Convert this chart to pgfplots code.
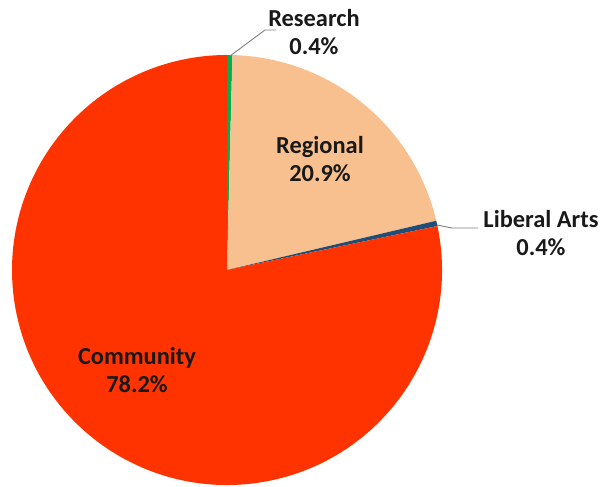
\documentclass[border=0pt]{standalone}
\usepackage{pgfplots}
\usepackage{pgfplotstable}
\pgfplotsset{compat=1.18}
\usepackage{fontspec}
\setmainfont{Carlito}

\definecolor{community}{HTML}{FF3300}
\definecolor{regional}{HTML}{F9C08F}
\definecolor{research}{HTML}{00B050}
\definecolor{libarts}{HTML}{1F4E79}
\definecolor{leader}{HTML}{7F7F7F}

\tikzset{lbl/.style={font=\bfseries\fontsize{24.5}{28}\selectfont, align=center, text=black!90}}

% share of institutions by type (%), clockwise from the top
\pgfplotstableread{
label value
Research 0.4
Regional 20.9
LiberalArts 0.4
Community 78.2
}\piedata
\pgfplotstablegetelem{0}{value}\of\piedata \let\vA\pgfplotsretval
\pgfplotstablegetelem{1}{value}\of\piedata \let\vB\pgfplotsretval
\pgfplotstablegetelem{2}{value}\of\piedata \let\vC\pgfplotsretval
\pgfplotstablegetelem{3}{value}\of\piedata \let\vD\pgfplotsretval
\pgfmathsetmacro\total{\vA+\vB+\vC+\vD}
\pgfmathsetmacro\aA{90}
\pgfmathsetmacro\aB{\aA-(\vA/\total)*360}
\pgfmathsetmacro\aC{\aB-(\vB/\total)*360}
\pgfmathsetmacro\aD{\aC-(\vC/\total)*360}
\pgfmathsetmacro\aE{\aA-360}

\begin{document}
\begin{tikzpicture}
\begin{axis}[
  x=1bp, y=1bp,
  xmin=0, xmax=603, ymin=0, ymax=487,
  hide axis, clip=false,
]
\fill[research] (axis cs:227,217) -- ++(\aA:215bp) arc[start angle=\aA, end angle=\aB, radius=215bp] -- cycle;
\fill[regional] (axis cs:227,217) -- ++(\aB:215bp) arc[start angle=\aB, end angle=\aC, radius=215bp] -- cycle;
\fill[libarts] (axis cs:227,217) -- ++(\aC:215bp) arc[start angle=\aC, end angle=\aD, radius=215bp] -- cycle;
\fill[community] (axis cs:227,217) -- ++(\aD:215bp) arc[start angle=\aD, end angle=\aE, radius=215bp] -- cycle;

\draw[leader, line width=0.9bp] (axis cs:230,431) -- (axis cs:265,457) -- (axis cs:276,457);
\draw[leader, line width=0.9bp] (axis cs:437,262) -- (axis cs:452,259) -- (axis cs:478,259);

\node[lbl] at (axis cs:314,455) {Research\\0.4\%};
\node[lbl] at (axis cs:541,254) {Liberal Arts\\0.4\%};
\node[lbl] at (axis cs:320,328) {Regional\\20.9\%};
\node[lbl] at (axis cs:137,117) {Community\\78.2\%};
\end{axis}
\pgfresetboundingbox
\path (0,0) rectangle (603bp,487bp);
\end{tikzpicture}
\end{document}
